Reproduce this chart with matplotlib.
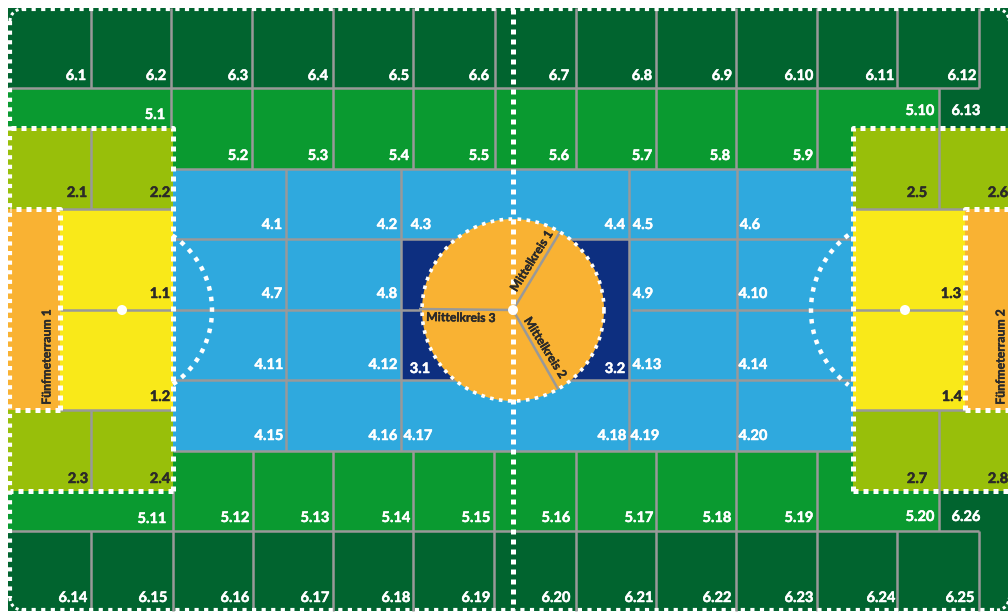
"""Zone map of a futsal pitch (hall sections with numbered areas)."""
import matplotlib
matplotlib.use("Agg")
import matplotlib.pyplot as plt
import matplotlib.patches as mpatches
import matplotlib.patheffects as pe
import numpy as np

plt.rcParams["font.family"] = ["Lato", "DejaVu Sans"]
plt.rcParams["font.weight"] = "bold"

W, H = 1008, 613

DARK_GREEN = "#01642f"
MID_GREEN = "#0a9a30"
BLUE = "#2fa9de"
OLIVE = "#98bf0a"
YELLOW = "#f9e919"
ORANGE = "#f9b233"
NAVY = "#0d2f80"
GREY = "#999999"
INK = "#2b2a29"

# zone labels, row by row
row_6_top = ["6.1", "6.2", "6.3", "6.4", "6.5", "6.6", "6.7", "6.8", "6.9", "6.10", "6.11", "6.12"]
row_6_top_x = [76, 156, 238, 318, 399, 479, 559, 642, 722, 799, 880, 962]
row_5_top = ["5.2", "5.3", "5.4", "5.5", "5.6", "5.7", "5.8", "5.9"]
row_5_top_x = [238, 318, 399, 479, 559, 642, 720, 803]
row_5_bot = ["5.12", "5.13", "5.14", "5.15", "5.16", "5.17", "5.18", "5.19"]
row_5_bot_x = [235, 315, 396, 476, 556, 639, 717, 799]
row_6_bot = ["6.14", "6.15", "6.16", "6.17", "6.18", "6.19", "6.20", "6.21", "6.22", "6.23", "6.24", "6.25"]
row_6_bot_x = [73, 153, 235, 315, 396, 476, 556, 639, 717, 799, 881, 960]
row_4a = ["4.1", "4.2", "4.3", "4.4", "4.5", "4.6"]
row_4a_x = [272, 387, 421, 615, 643, 750]
row_4b = ["4.7", "4.8", "4.9", "4.10"]
row_4b_x = [272, 387, 643, 753]
row_4c = ["4.11", "4.12", "4.13", "4.14"]
row_4c_x = [269, 383, 647, 753]
row_4d = ["4.15", "4.16", "4.17", "4.18", "4.19", "4.20"]
row_4d_x = [269, 383, 418, 612, 645, 753]
misc_white = ["5.1", "5.10", "6.13", "5.11", "5.20", "6.26", "3.1", "3.2"]
misc_white_x = [155, 920, 966, 152, 920, 966, 420, 615]
misc_white_y = [114, 110, 110, 518, 516, 516, 368, 368]
dark_labels = ["2.1", "2.2", "2.5", "2.6", "1.1", "1.3", "1.2", "1.4", "2.3", "2.4", "2.7", "2.8"]
dark_x = [77, 160, 917, 998, 160, 951, 160, 952, 78, 160, 917, 998]
dark_y = [192, 192, 192, 192, 293, 293, 396, 396, 478, 478, 478, 478]

# grid line positions
top_verticals = [91, 171, 252, 333, 413, 495, 576, 656, 736, 817, 897, 979]
bot_verticals = [91, 173, 253, 333, 413, 494, 576, 656, 736, 817, 897, 979]
mid_top_verticals = [252, 333, 413, 495, 576, 656, 736, 817]
mid_bot_verticals = [253, 333, 413, 494, 576, 656, 736, 817]
blue_verticals = [286, 401, 629, 737]
blue_horizontals = [239, 380]

fig = plt.figure(figsize=(W / 100, H / 100), dpi=100, facecolor="white")
ax = fig.add_axes([0, 0, 1, 1])
ax.set_xlim(0, W)
ax.set_ylim(H, 0)
ax.axis("off")


def box(x0, y0, x1, y1, color, z=1):
    ax.add_patch(mpatches.Rectangle((x0, y0), x1 - x0, y1 - y0, facecolor=color,
                                    edgecolor="none", zorder=z))


def grey(xs, ys, z=3, lw=1.8):
    ax.plot(xs, ys, color=GREY, lw=lw, solid_capstyle="butt", zorder=z)


def dots(xs, ys, lw=3.6, gap=1.0, z=7):
    ax.plot(xs, ys, color="white", lw=lw, linestyle=(0, (1, gap)),
            dash_capstyle="butt", zorder=z)


def labels(names, xs, ys, color="white", size=10.5):
    for name, x, y in zip(names, xs, ys):
        ax.text(x, y + 1, name, color=color, fontsize=size, ha="center", va="center", zorder=9,
                path_effects=[pe.withStroke(linewidth=0.35, foreground=color)])


# ── Coloured areas ─────────────────────────────────────────
box(8, 8, W, 88, DARK_GREEN)
box(8, 531, W, 611, DARK_GREEN)
box(8, 88, 939, 169, MID_GREEN)
box(8, 451, 939, 531, MID_GREEN)
box(939, 88, W, 128, DARK_GREEN)
box(939, 491, W, 531, DARK_GREEN)
box(173, 169, 853, 451, BLUE)
box(8, 128, 173, 491, OLIVE, 2)
box(853, 128, W, 491, OLIVE, 2)
box(60, 209, 173, 410, YELLOW, 2)
box(853, 209, 965, 410, YELLOW, 2)
box(8, 209, 60, 410, ORANGE, 2)
box(965, 209, W, 410, ORANGE, 2)
box(401, 239, 629, 380, NAVY, 2)

# ── Grid lines ─────────────────────────────────────────────
for x in top_verticals:
    grey([x, x], [8, 88])
for x in bot_verticals:
    grey([x, x], [531, 611])
for x in mid_top_verticals:
    grey([x, x], [88, 169])
for x in mid_bot_verticals:
    grey([x, x], [451, 531])
grey([171, 171], [88, 128])
grey([173, 173], [491, 531])
for x in blue_verticals:
    grey([x, x], [169, 451])
for y in blue_horizontals:
    grey([173, 853], [y, y])
grey([8, 979], [88, 88])
grey([8, 979], [531, 531])
grey([173, 853], [169, 169])
grey([173, 853], [451, 451])
grey([60, 513], [310, 310])
grey([632, 965], [310, 310])
grey([60, 173], [209, 209])
grey([60, 173], [410, 410])
grey([853, 965], [209, 209])
grey([853, 965], [410, 410])
grey([91, 91], [128, 209])
grey([91, 91], [410, 491])
grey([939, 939], [88, 209])
grey([939, 939], [410, 531])

# ── Centre circle ──────────────────────────────────────────
ax.add_patch(mpatches.Circle((513, 310), 91, facecolor=ORANGE, edgecolor="none", zorder=4))
theta = np.linspace(0, 2 * np.pi, 361)
dots(513 + 91 * np.cos(theta), 310 + 91 * np.sin(theta), lw=2.6, gap=1.5)
grey([513, 560], [310, 232], z=5)
grey([513, 558], [310, 389], z=5)
grey([513, 419], [310, 309], z=5)

# ── Dotted boundaries ──────────────────────────────────────
dots([10, 10], [21, 598], lw=3.0, gap=1.3)
dots([22, 997], [9, 9], lw=3.0, gap=1.3)
dots([22, 997], [610, 610], lw=3.0, gap=1.3)
dots([513, 513], [9, 610])
dots([173, 173, 10], [491, 128, 128])
dots([173, 10], [491, 491])
dots([853, 853, W], [491, 128, 128])
dots([853, W], [491, 491])
dots([60, 60, 10], [410, 209, 209])
dots([60, 10], [410, 410])
dots([965, 965, W], [410, 209, 209])
dots([965, W], [410, 410])

# penalty arcs and corner arcs
t = np.radians(np.linspace(-56, 56, 60))
dots(122 + 90 * np.cos(t), 310 + 90 * np.sin(t), lw=3.2, gap=1.4, z=3)
t = np.radians(np.linspace(-53, 53, 60))
dots(905 - 94 * np.cos(t), 310 + 94 * np.sin(t), lw=3.2, gap=1.4, z=3)
t = np.radians(np.linspace(0, 90, 12))
dots(22 - 12 * np.cos(t), 21 - 12 * np.sin(t), lw=2.2)
dots(22 - 12 * np.cos(t), 598 + 12 * np.sin(t), lw=2.2)
dots(997 + 12 * np.sin(t), 21 - 12 * np.cos(t), lw=2.2)
dots(997 + 12 * np.sin(t), 598 + 12 * np.cos(t), lw=2.2)

for cx in (122, 513, 905):
    ax.add_patch(mpatches.Circle((cx, 310), 5, facecolor="white", edgecolor="none", zorder=8))

# ── Texts ──────────────────────────────────────────────────
labels(row_6_top, row_6_top_x, [75] * len(row_6_top))
labels(row_5_top, row_5_top_x, [155] * len(row_5_top))
labels(row_5_bot, row_5_bot_x, [517] * len(row_5_bot))
labels(row_6_bot, row_6_bot_x, [597] * len(row_6_bot))
labels(row_4a, row_4a_x, [224] * len(row_4a))
labels(row_4b, row_4b_x, [293] * len(row_4b))
labels(row_4c, row_4c_x, [364] * len(row_4c))
labels(row_4d, row_4d_x, [435] * len(row_4d))
labels(misc_white, misc_white_x, misc_white_y)
labels(dark_labels, dark_x, dark_y, color=INK)

for name, x, y, rot in [("Mittelkreis 1", 532, 261, 58),
                        ("Mittelkreis 2", 545, 348, -58),
                        ("Mittelkreis 3", 461, 318, -1)]:
    ax.text(x, y, name, color=INK, fontsize=8.8, rotation=rot, rotation_mode="anchor",
            ha="center", va="center", zorder=9,
            path_effects=[pe.withStroke(linewidth=0.3, foreground=INK)])
for name, x in [("Fünfmeterraum 1", 47), ("Fünfmeterraum 2", 1001)]:
    ax.text(x, 357, name, color=INK, fontsize=8.8, rotation=90, rotation_mode="anchor",
            ha="center", va="center", zorder=9,
            path_effects=[pe.withStroke(linewidth=0.3, foreground=INK)])

fig.savefig("out.png", dpi=100)
